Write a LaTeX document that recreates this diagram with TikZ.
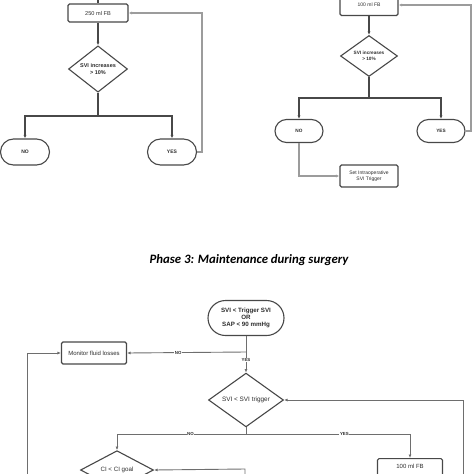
\documentclass[tikz,border=0pt]{standalone}
\usepackage{fontspec}
\setmainfont{Liberation Sans}
\newfontfamily\titlefont{Carlito}
\usetikzlibrary{arrows.meta,shapes.geometric}
\definecolor{ln}{HTML}{484848}
\definecolor{lg}{HTML}{9C9C9C}
\definecolor{lm}{HTML}{6E6E6E}
\definecolor{tx}{HTML}{2E2E2E}
\tikzset{
  procbox/.style={draw=ln,line width=1.1pt,rounded corners=1.5pt,fill=white,
    inner sep=0pt,align=center,text=tx,font=\fontsize{5.6}{6.6}\selectfont},
  termbox/.style={draw=ln,line width=1.1pt,rounded corners=#1,fill=white,
    inner sep=0pt,align=center,text=tx,font=\bfseries\fontsize{5}{6}\selectfont},
  decbox/.style={draw=ln,line width=1.1pt,diamond,fill=white,inner sep=0pt,
    align=center,text=tx,font=\fontsize{5}{6}\selectfont},
  conn/.style={draw=ln,line width=1.1pt},
  connarr/.style={conn,-{Latex[length=3.5pt,width=3pt]}},
  fback/.style={draw=lg,line width=1.1pt,-{Latex[length=3.5pt,width=3pt]}},
  thinarr/.style={draw=lm,line width=0.9pt,-{Latex[length=3.5pt,width=3pt]}},
  thinln/.style={draw=lm,line width=0.9pt},
  lbl/.style={fill=white,inner sep=0.6pt,text=tx,font=\bfseries\fontsize{4.4}{5}\selectfont},
}
\begin{document}
\begin{tikzpicture}[x=1pt,y=-1pt]
\useasboundingbox (0,0) rectangle (474,474);
\clip (0,0) rectangle (474,474);
% ---------- top left ----------
\node[procbox,minimum width=60pt,minimum height=18pt] (fbA) at (98,13) {250 ml FB};
\node[decbox,font=\bfseries\fontsize{5.5}{6.5}\selectfont,minimum width=59pt,minimum height=46pt] (dA) at (98,69) {SVI increases\\> 10\%};
\node[termbox=13pt,minimum width=49pt,minimum height=26pt] (noA) at (25,152) {NO};
\node[termbox=13pt,minimum width=49pt,minimum height=26pt] (yesA) at (172,152) {YES};
\coordinate (topA) at (98,-6);
\coordinate (jA) at (98,116);
\coordinate (rA) at (202,152);
\draw[conn] (topA) -- (fbA.north);
\draw[connarr] (fbA.south) -- (dA.north);
\draw[conn] (dA.south) -- (jA);
\draw[connarr] (jA) -| (noA.north);
\draw[connarr] (jA) -| (yesA.north);
\draw[fback] (yesA.east) -- (rA) |- (fbA.east);
% ---------- top right ----------
\node[procbox,font=\fontsize{5}{6}\selectfont,minimum width=58pt,minimum height=21pt] (fbB) at (369,5) {100 ml FB};
\node[decbox,font=\bfseries\fontsize{4.7}{5.7}\selectfont,minimum width=57pt,minimum height=41pt] (dB) at (369,56) {SVI increases\\> 10\%};
\node[termbox=11.5pt,minimum width=48pt,minimum height=23pt,font=\bfseries\fontsize{4.7}{5.7}\selectfont] (noB) at (299,131) {NO};
\node[termbox=11.5pt,minimum width=48pt,minimum height=23pt,font=\bfseries\fontsize{4.7}{5.7}\selectfont] (yesB) at (441,131) {YES};
\node[procbox,font=\fontsize{5}{6}\selectfont,minimum width=58pt,minimum height=22pt] (trig) at (369,176) {Set Intraoperative\\SVI Trigger};
\coordinate (jB) at (369,98);
\coordinate (rB) at (471,131);
\draw[connarr] (fbB.south) -- (dB.north);
\draw[conn] (dB.south) -- (jB);
\draw[connarr] (jB) -| (noB.north);
\draw[connarr] (jB) -| (yesB.north);
\draw[fback] (yesB.east) -- (rB) |- (fbB.east);
\draw[fback] (noB.south) |- (trig.west);
% ---------- title ----------
\node[font=\titlefont\bfseries\itshape\fontsize{12.8}{14}\selectfont,inner sep=0pt] (title) at (249,260) {Phase 3: Maintenance during surgery};
% ---------- bottom ----------
\node[termbox=17.5pt,minimum width=76pt,minimum height=35pt,font=\bfseries\fontsize{6.2}{7.4}\selectfont] (start) at (246,318) {SVI < Trigger SVI\\OR\\SAP < 90 mmHg};
\node[procbox,font=\fontsize{6}{7}\selectfont,minimum width=65pt,minimum height=22pt] (mon) at (94,353) {Monitor fluid losses};
\node[decbox,font=\fontsize{6.4}{7}\selectfont,minimum width=75pt,minimum height=34pt] (dC) at (246,400) {SVI < SVI trigger};
\node[decbox,font=\fontsize{6.2}{7}\selectfont,minimum width=73pt,minimum height=36pt] (dCI) at (117,470) {CI < CI goal};
\node[procbox,font=\fontsize{6}{7}\selectfont,minimum width=65pt,minimum height=22pt,anchor=north] (fb2) at (410,458) {\raisebox{6pt}{100 ml FB}};
\coordinate (jNo) at (246,352);
\coordinate (jC) at (246,434);
\coordinate (jCl) at (117,434);
\coordinate (jCr) at (410,434);
\coordinate (lbot) at (27,490);
\coordinate (ltop) at (27,353);
\coordinate (rbot) at (463,490);
\coordinate (rtop) at (463,400);
\coordinate (mbot) at (245,490);
\coordinate (mtop) at (245,469);
\draw[thinln] (start.south) -- (jNo);
\draw[thinarr] (jNo) -- (dC.north) node[lbl,pos=0.38] {YES};
\draw[thinarr] (jNo) -- (mon.east) node[lbl,pos=0.57] {NO};
\draw[thinarr] (lbot) -- (ltop) -- (mon.west);
\draw[thinarr] (rbot) -- (rtop) -- (dC.east);
\draw[thinln] (dC.south) -- (jC);
\draw[thinarr] (jC) -- (jCl) node[lbl,pos=0.43] {NO} -- (dCI.north);
\draw[thinarr] (jC) -- (jCr) node[lbl,pos=0.6] {YES} -- (fb2.north);
\draw[thinarr] (mbot) -- (mtop) -- (dCI.east);
\end{tikzpicture}
\end{document}
